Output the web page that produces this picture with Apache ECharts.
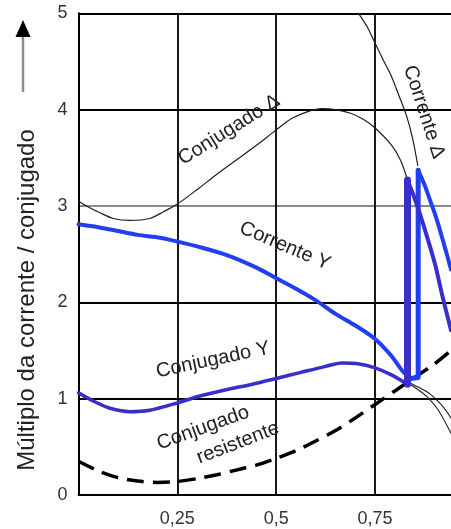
<!DOCTYPE html>
<html>
<head>
<meta charset="utf-8">
<script src="https://cdn.jsdelivr.net/npm/echarts@6/dist/echarts.min.js"></script>
<style>
html,body{margin:0;padding:0;background:#fff;}
#c{width:451px;height:529px;}
</style>
</head>
<body>
<div id="c"></div>
<script>
// ---- data (x = rotação relativa, y = múltiplo) ----
const xTicks = [0, 0.25, 0.5, 0.75];
const yTicks = [0, 1, 2, 3, 4, 5];
const yTitle = 'Múltiplo da corrente / conjugado';

const conjugadoDelta = [[0,3.05],[0.02,3.0],[0.054,2.93],[0.088,2.87],[0.13,2.85],[0.18,2.87],[0.215,2.94],[0.25,3.02],[0.3,3.17],[0.35,3.33],[0.4,3.48],[0.45,3.63],[0.5,3.79],[0.54,3.91],[0.58,3.98],[0.615,4.01],[0.65,4.0],[0.69,3.96],[0.72,3.9],[0.75,3.81],[0.792,3.63],[0.815,3.47],[0.832,3.27]];
const correnteDelta = [[0.708,5.0],[0.73,4.86],[0.75,4.69],[0.77,4.52],[0.792,4.34],[0.81,4.15],[0.83,3.93],[0.845,3.7],[0.858,3.42]];
const correnteY = [[0,2.81],[0.05,2.78],[0.1,2.74],[0.15,2.7],[0.207,2.67],[0.25,2.63],[0.3,2.58],[0.375,2.49],[0.45,2.36],[0.5,2.25],[0.55,2.14],[0.6,2.02],[0.65,1.88],[0.7,1.76],[0.75,1.62],[0.79,1.45],[0.821,1.28],[0.84,1.21]];
const correnteSwitch = [[0.84,1.21],[0.859,1.22],[0.859,3.37]];
const correnteAposDelta = [[0.859,3.37],[0.875,3.22],[0.889,3.06],[0.902,2.91],[0.914,2.75],[0.928,2.55],[0.942,2.34]];
const conjugadoY = [[0,1.06],[0.04,0.97],[0.08,0.9],[0.13,0.865],[0.18,0.88],[0.25,0.955],[0.3,1.02],[0.37,1.09],[0.44,1.15],[0.5,1.21],[0.56,1.27],[0.62,1.33],[0.666,1.37],[0.71,1.36],[0.75,1.32],[0.79,1.25],[0.832,1.15]];
const conjugadoSwitch = [[0.832,1.15],[0.832,3.27]];
const conjugadoAposDelta = [[0.832,3.27],[0.85,3.08],[0.864,2.91],[0.88,2.7],[0.902,2.39],[0.92,2.07],[0.942,1.71]];
const conjugadoYCont = [[0.834,1.16],[0.86,1.09],[0.881,1.02],[0.91,0.88],[0.942,0.64]];
const correnteYCont = [[0.834,1.17],[0.864,1.11],[0.889,1.05],[0.919,0.93],[0.942,0.8]];
const conjugadoResistente = [[0,0.35],[0.05,0.25],[0.1,0.18],[0.15,0.145],[0.2,0.13],[0.25,0.14],[0.3,0.17],[0.35,0.21],[0.41,0.27],[0.45,0.31],[0.5,0.38],[0.55,0.46],[0.6,0.56],[0.65,0.67],[0.7,0.8],[0.75,0.94],[0.8,1.08],[0.85,1.22],[0.9,1.36],[0.942,1.5]];

const FONT = '"Liberation Sans", Arial, sans-serif';
const chart = echarts.init(document.getElementById('c'), null, {renderer:'canvas'});

function line(data, color, width, z, opts) {
  return Object.assign({
    type:'line', data:data, symbol:'none', showSymbol:false, silent:true,
    smooth:0.3, z:z, animation:false,
    lineStyle:{color:color, width:width, cap:'round', join:'round'}
  }, opts || {});
}

const DARK = '#3a2ecb';
const BRIGHT = '#1f3ff0';
const THIN = '#1e1e1e';

chart.setOption({
  backgroundColor:'#fff',
  animation:false,
  grid:{left:78.5, right:0, top:13.3, bottom:34, outerBoundsMode:'none', containLabel:false},
  xAxis:{
    type:'value', min:0, max:0.942, interval:0.25,
    axisLine:{show:true, onZero:false, lineStyle:{color:'#000', width:2}},
    axisTick:{show:false},
    splitLine:{show:true, showMaxLine:false, lineStyle:{color:'#000', width:1.8}},
    axisLabel:{showMinLabel:false, showMaxLabel:false, fontSize:18, color:'#333', margin:15, fontFamily:FONT,
      formatter:function(v){ return xTicks.indexOf(v) > 0 ? String(v).replace('.', ',') : ''; }}
  },
  yAxis:{
    type:'value', min:yTicks[0], max:yTicks[yTicks.length-1], interval:1,
    axisLine:{show:true, onZero:false, lineStyle:{color:'#000', width:2}},
    axisTick:{show:false},
    splitLine:{show:true, lineStyle:{color:['#000','#000','#000','#8a8a8a','#000','#000'], width:1.8}},
    axisLabel:{fontSize:18, color:'#333', margin:11, fontFamily:FONT}
  },
  series:[
    line(conjugadoDelta, THIN, 1.2, 3),
    line(correnteDelta, THIN, 1.2, 3),
    line(conjugadoYCont, THIN, 1.1, 3),
    line(correnteYCont, THIN, 1.1, 3),
    line(conjugadoResistente, '#000', 3.5, 4, {lineStyle:{color:'#000', width:3.5, type:[17,9], cap:'butt'}}),
    line(correnteY, BRIGHT, 4, 5),
    line(correnteSwitch, BRIGHT, 5, 5, {smooth:false}),
    line(correnteAposDelta, BRIGHT, 4, 5),
    line(conjugadoY, DARK, 3.5, 6),
    line(conjugadoSwitch, DARK, 7, 6, {smooth:false}),
    line(conjugadoAposDelta, DARK, 4, 6)
  ],
  graphic:[
    {type:'line', shape:{x1:23, y1:36, x2:23, y2:92}, style:{stroke:'#8c8c8c', lineWidth:2.5}, z:10},
    {type:'polygon', shape:{points:[[23,20],[15.5,37],[30.5,37]]}, style:{fill:'#000'}, z:10},
    {type:'text', x:27, y:300, rotation:Math.PI/2, style:{text:yTitle, font:'24px '+FONT, fill:'#222', align:'center', verticalAlign:'middle'}, z:10},
    {type:'text', x:229, y:130, rotation:32*Math.PI/180, style:{text:'Conjugado Δ', font:'20px '+FONT, fill:'#222', align:'center', verticalAlign:'middle'}, z:10},
    {type:'text', x:424, y:112, rotation:-72*Math.PI/180, style:{text:'Corrente Δ', font:'20px '+FONT, fill:'#222', align:'center', verticalAlign:'middle'}, z:10},
    {type:'text', x:285, y:246, rotation:-23*Math.PI/180, style:{text:'Corrente Y', font:'20px '+FONT, fill:'#222', align:'center', verticalAlign:'middle'}, z:10},
    {type:'text', x:213, y:360, rotation:12*Math.PI/180, style:{text:'Conjugado Y', font:'20px '+FONT, fill:'#222', align:'center', verticalAlign:'middle'}, z:10},
    {type:'text', x:203, y:428, rotation:20*Math.PI/180, style:{text:'Conjugado', font:'20px '+FONT, fill:'#222', align:'center', verticalAlign:'middle'}, z:10},
    {type:'text', x:238, y:443, rotation:21*Math.PI/180, style:{text:'resistente', font:'20px '+FONT, fill:'#222', align:'center', verticalAlign:'middle'}, z:10}
  ]
});
</script>
</body>
</html>
